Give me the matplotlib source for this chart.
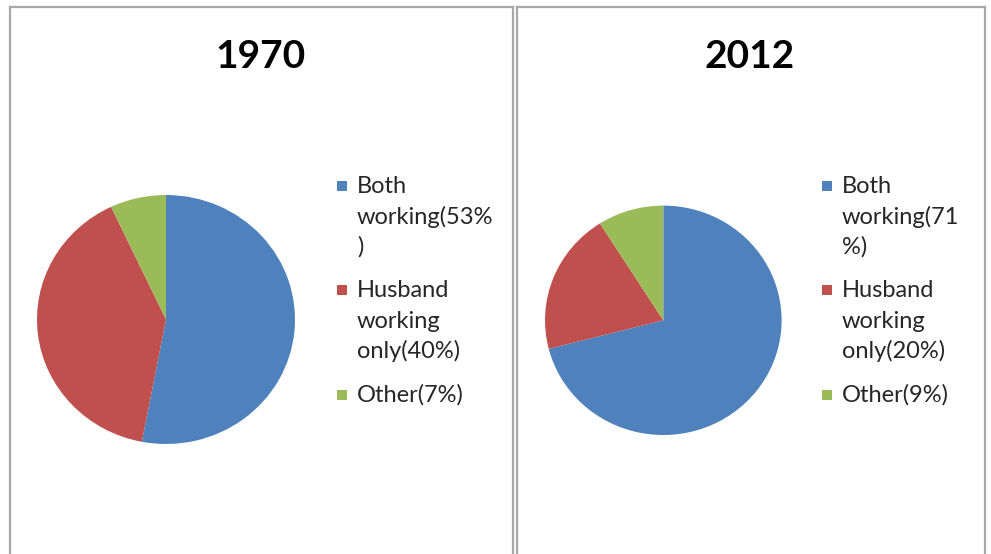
import matplotlib
matplotlib.use("Agg")
import matplotlib.pyplot as plt
from matplotlib.patches import Rectangle
from matplotlib.lines import Line2D

W, H = 991, 554
DPI = 100

years = ["1970", "2012"]
categories = ["Both working", "Husband working only", "Other"]
share_1970 = [53, 40, 7]
share_2012 = [71, 20, 9]
legend_1970 = ["Both\nworking(53%\n)", "Husband\nworking\nonly(40%)", "Other(7%)"]
legend_2012 = ["Both\nworking(71\n%)", "Husband\nworking\nonly(20%)", "Other(9%)"]
colors = ["#4F81BD", "#C0504D", "#9BBB59"]

plt.rcParams["font.family"] = ["Lato", "DejaVu Sans"]

fig = plt.figure(figsize=(W / DPI, H / DPI), dpi=DPI)
fig.patch.set_facecolor("white")


def fx(x):
    return x / W


def fy(y):
    return 1 - y / H


def panel_border(x0, x1, y0):
    kw = dict(transform=fig.transFigure, color="#A8A8A8", lw=1.6)
    fig.add_artist(Line2D([fx(x0), fx(x0)], [fy(y0), fy(H + 5)], **kw))
    fig.add_artist(Line2D([fx(x1), fx(x1)], [fy(y0), fy(H + 5)], **kw))
    fig.add_artist(Line2D([fx(x0), fx(x1)], [fy(y0), fy(y0)], **kw))


def draw_panel(title, values, labels, cx, cy, rx, ry, title_x, leg_x):
    # pie occupies an axes sized to the pie's pixel extent
    ax = fig.add_axes([fx(cx - rx), fy(cy + ry), 2 * rx / W, 2 * ry / H])
    wedges, _ = ax.pie(values, colors=colors, startangle=90, counterclock=False,
                       radius=1.0, wedgeprops=dict(linewidth=0))
    ax.set_aspect("auto")
    ax.set_xlim(-1, 1)
    ax.set_ylim(-1, 1)
    ax.axis("off")

    fig.text(fx(title_x), fy(68), title, ha="center", va="baseline",
             fontsize=28, fontweight="bold", color="black")

    # legend: square swatch beside the first line of each wrapped entry
    first_line_y = [186, 290, 395]
    pitch = 30.5
    for lab, col, yy in zip(labels, colors, first_line_y):
        fig.add_artist(Rectangle((fx(leg_x), fy(yy + 5)), 10 / W, 10 / H,
                                 transform=fig.transFigure, facecolor=col,
                                 edgecolor="none"))
        for i, line in enumerate(lab.split("\n")):
            fig.text(fx(leg_x + 20), fy(yy + 7 + i * pitch), line, ha="left",
                     va="baseline", fontsize=17, color="#262626")


panel_border(10, 513, 7)
panel_border(517, 985, 7)

draw_panel(years[0], share_1970, legend_1970, 166, 319.5, 129, 124.5, 261, 337)
draw_panel(years[1], share_2012, legend_2012, 663.3, 320.3, 118.3, 114.7, 750, 822)

fig.savefig("out.png", dpi=DPI, facecolor="white")
